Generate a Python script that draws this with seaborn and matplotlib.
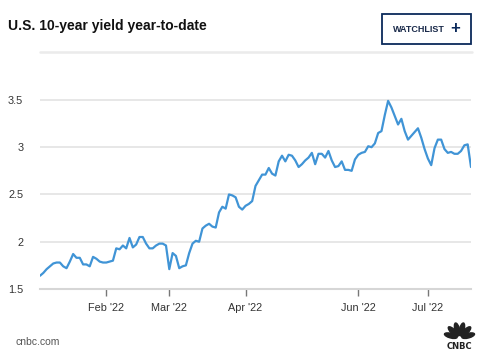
import numpy as np
import pandas as pd
import matplotlib
matplotlib.use("Agg")
import matplotlib.pyplot as plt
from matplotlib.patches import Rectangle, Ellipse
import seaborn as sns

# daily closes of the 10-year yield (trading days, Jan 3 2022 onward)
yields = [
    1.64, 1.67, 1.71, 1.74, 1.77, 1.78, 1.78, 1.74, 1.72, 1.79,
    1.87, 1.83, 1.83, 1.76, 1.76, 1.74, 1.84, 1.82, 1.79, 1.78,
    1.78, 1.79, 1.80, 1.93, 1.92, 1.96, 1.93, 2.04, 1.94, 1.97,
    2.05, 2.05, 1.98, 1.93, 1.93, 1.96, 1.98, 1.98, 1.96, 1.71,
    1.88, 1.85, 1.72, 1.74, 1.75, 1.88, 1.98, 2.01, 2.00, 2.14,
    2.17, 2.19, 2.16, 2.15, 2.31, 2.37, 2.35, 2.50, 2.49, 2.47,
    2.37, 2.34, 2.38, 2.40, 2.43, 2.59, 2.65, 2.71, 2.71, 2.78,
    2.72, 2.70, 2.85, 2.91, 2.85, 2.92, 2.91, 2.86, 2.79, 2.82,
    2.86, 2.89, 2.94, 2.82, 2.93, 2.93, 2.89, 2.96, 2.86, 2.79,
    2.80, 2.85, 2.76, 2.76, 2.75, 2.87, 2.92, 2.94, 2.95, 3.01,
    3.00, 3.04, 3.15, 3.17, 3.34, 3.49, 3.42, 3.33, 3.24, 3.30,
    3.17, 3.08, 3.12, 3.16, 3.20, 3.10, 2.98, 2.88, 2.81, 2.99,
    3.08, 3.08, 2.98, 2.94, 2.95, 2.93, 2.93, 2.96, 3.02, 3.03,
    2.79,
]
month_pos = [20, 39, 62, 96, 117]
month_labels = ["Feb '22", "Mar '22", "Apr '22", "Jun '22", "Jul '22"]
y_ticks = [1.5, 2, 2.5, 3, 3.5]
y_labels = ["1.5", "2", "2.5", "3", "3.5"]

df = pd.DataFrame({"day": np.arange(len(yields)), "yield": yields})

sns.set_style("white")
plt.rcParams["font.family"] = ["Liberation Sans", "DejaVu Sans"]

W, H = 487, 357
fig = plt.figure(figsize=(W / 100, H / 100), dpi=100)
ax = fig.add_axes([40 / W, (H - 289) / H, 431 / W, 0.5826])

sns.lineplot(data=df, x="day", y="yield", ax=ax, color="#4094d6", linewidth=1.6)

ax.set_xlim(0, len(yields) - 1)
ax.set_ylim(1.5, 3.7)
ax.set_xticks(month_pos)
ax.set_xticklabels(month_labels)
ax.set_yticks(y_ticks)
ax.set_yticklabels(y_labels)
ax.set_xlabel("")
ax.set_ylabel("")
for s in ["top", "right", "left"]:
    ax.spines[s].set_visible(False)
ax.spines["bottom"].set_color("#d6d6d6")
ax.spines["bottom"].set_linewidth(1.5)
ax.grid(axis="y", color="#e3e3e3", linewidth=1.2)
ax.set_axisbelow(True)
ax.tick_params(axis="x", length=5, width=1, color="#777777", pad=5,
               labelsize=7.8, labelcolor="#333333", bottom=True)
ax.tick_params(axis="y", length=0, pad=12, labelsize=7.8, labelcolor="#333333")

# header
fig.text(8 / W, 1 - 26 / H, "U.S. 10-year yield year-to-date", fontsize=10,
         fontweight="bold", color="#111111", va="center", ha="left")
fig.add_artist(Rectangle((382 / W, 1 - 44 / H), 89 / W, 30 / H, transform=fig.transFigure,
                         fill=False, edgecolor="#0b2a5b", linewidth=1.3))
fig.text(393 / W, 1 - 29 / H, "WATCHLIST", fontsize=6.5, fontweight="bold",
         color="#1a2a4a", va="center", ha="left")
fig.text(455 / W, 1 - 29 / H, "+", fontsize=12, fontweight="bold",
         color="#0b2a5b", va="center", ha="center")
fig.add_artist(plt.Line2D([40 / W, 472 / W], [1 - 52 / H, 1 - 52 / H],
                          transform=fig.transFigure, color="#ebebeb", linewidth=1.8))

# footer
fig.text(16 / W, 1 - 342 / H, "cnbc.com", fontsize=7.5, color="#555555",
         va="center", ha="left")
# peacock logo, drawn in pixel units (inches * 100)
cx, cy = 459.5, 338
for ang in [15, 45, 75, 105, 135, 165]:
    r = 9
    px = cx + r * np.cos(np.radians(ang))
    py = cy - r * np.sin(np.radians(ang))
    fig.add_artist(Ellipse((px / 100, (H - py) / 100), 4.6 / 100, 13 / 100,
                           angle=ang - 90, transform=fig.dpi_scale_trans,
                           color="#222222"))
fig.text(cx / W, 1 - 346.5 / H, "CNBC", fontsize=6, fontweight="heavy",
         family="DejaVu Sans", color="#222222", va="center", ha="center")

fig.savefig("out.png", dpi=100)
